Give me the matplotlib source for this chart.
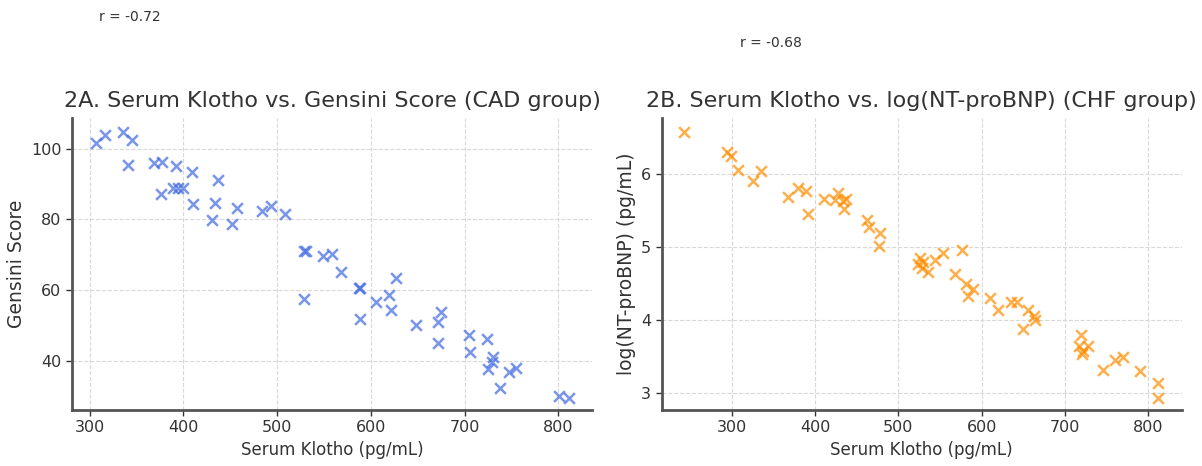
import matplotlib
matplotlib.use("Agg")
import matplotlib.pyplot as plt

# 2A: CAD group
klotho_cad = [307, 316, 335, 345, 341, 369, 377, 392.5, 409, 376, 389, 394, 399, 437,
              410, 434, 430.5, 452, 457, 483.5, 493, 508.5, 529, 531, 549, 559, 568.5,
              529, 587, 588, 588, 606, 619.5, 621, 626.6, 648, 674.5, 671.6, 672, 704.6,
              705.3, 724, 730.4, 729.4, 725, 738.3, 747.2, 755.3, 800.3, 811]
gensini = [101.7, 104, 104.7, 102.5, 95.3, 96, 96.2, 95, 93.3, 87.3, 89, 89, 89, 91,
           84.3, 84.5, 79.8, 78.7, 83.1, 82.4, 83.7, 81.4, 71, 71, 69.5, 70.2, 65.1,
           57.5, 60.5, 60.6, 51.9, 56.5, 58.7, 54.3, 63.4, 50.1, 53.7, 50.9, 45, 47.1,
           42.4, 46.2, 41.1, 39.6, 37.7, 32.1, 36.8, 38, 30, 29.5]

# 2B: CHF group
klotho_chf = [243, 294, 299, 307, 325, 335, 367, 379, 389, 392, 411, 424, 427, 434, 437,
              435, 462, 465, 478, 477, 526, 524, 530, 528, 535, 544, 553, 576, 568, 581,
              589, 584, 610, 619, 635, 642, 655, 663, 664, 649, 719, 717, 727, 720, 721,
              746, 760, 770, 790, 811, 812]
log_bnp = [6.57, 6.29, 6.24, 6.05, 5.9, 6.03, 5.68, 5.8, 5.76, 5.45, 5.65, 5.64, 5.74,
           5.62, 5.65, 5.52, 5.36, 5.27, 5.19, 5.01, 4.85, 4.76, 4.79, 4.71, 4.65, 4.82,
           4.91, 4.95, 4.63, 4.49, 4.42, 4.33, 4.30, 4.14, 4.25, 4.25, 4.14, 4.05, 4.00,
           3.87, 3.79, 3.64, 3.65, 3.54, 3.58, 3.32, 3.45, 3.49, 3.30, 3.14, 2.93]

fig = plt.figure(figsize=(12.02, 4.66), dpi=100)
ax1 = fig.add_axes([0.0599, 0.1202, 0.4326, 0.6266])
ax2 = fig.add_axes([0.5505, 0.1202, 0.4326, 0.6266])

txt = "#333333"

def style(ax):
    ax.grid(True, linestyle="--", color="#d8d8d8", linewidth=0.8)
    ax.set_axisbelow(True)
    for s in ["top", "right"]:
        ax.spines[s].set_visible(False)
    for s in ["left", "bottom"]:
        ax.spines[s].set_linewidth(2)
        ax.spines[s].set_color("#555555")
    ax.tick_params(labelsize=11.5, colors=txt, length=4, width=1)
    for lab in ax.get_xticklabels() + ax.get_yticklabels():
        lab.set_color(txt)

ax1.scatter(klotho_cad, gensini, marker="x", s=60, linewidths=1.8,
            color="royalblue", alpha=0.7)
ax1.set_xlim(281, 836)
ax1.set_ylim(26, 108.7)
ax1.set_xticks([300, 400, 500, 600, 700, 800])
ax1.set_yticks([40, 60, 80, 100])
ax1.set_title("2A. Serum Klotho vs. Gensini Score (CAD group)", fontsize=16, color=txt, pad=8)
ax1.set_xlabel("Serum Klotho (pg/mL)", fontsize=12, color=txt)
ax1.set_ylabel("Gensini Score", fontsize=13.5, color=txt)
style(ax1)

ax2.scatter(klotho_chf, log_bnp, marker="x", s=60, linewidths=1.8,
            color="darkorange", alpha=0.7)
ax2.set_xlim(216, 840)
ax2.set_ylim(2.77, 6.76)
ax2.set_xticks([300, 400, 500, 600, 700, 800])
ax2.set_yticks([3, 4, 5, 6])
ax2.set_title("2B. Serum Klotho vs. log(NT-proBNP) (CHF group)", fontsize=16, color=txt, pad=8)
ax2.set_xlabel("Serum Klotho (pg/mL)", fontsize=12, color=txt)
ax2.set_ylabel("log(NT-proBNP) (pg/mL)", fontsize=13.5, color=txt)
style(ax2)

fig.text(99 / 1202, 1 - 17 / 466, "r = -0.72", fontsize=10, color=txt, va="center")
fig.text(740 / 1202, 1 - 43 / 466, "r = -0.68", fontsize=10, color=txt, va="center")

fig.savefig("out.png", dpi=100)
